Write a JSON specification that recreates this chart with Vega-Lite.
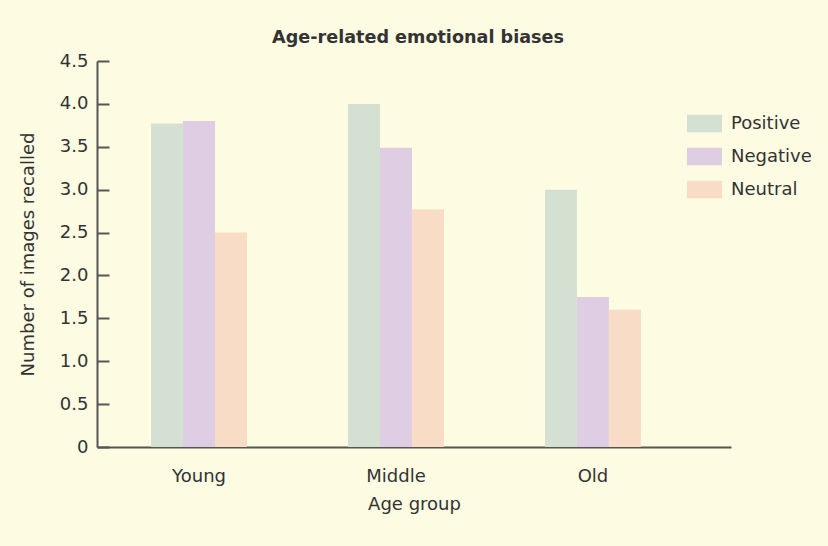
{
  "$schema": "https://vega.github.io/schema/vega-lite/v6.json",
  "width": 634,
  "height": 386,
  "autosize": "none",
  "padding": {"left": 97, "top": 61, "right": 97, "bottom": 99},
  "background": "#fdfbe2",
  "title": {"text": "Age-related emotional biases", "fontSize": 17.6, "font": "DejaVu Sans", "fontWeight": "bold", "color": "#333333", "anchor": "middle", "offset": 5, "dx": 4},
  "config": {"view": {"stroke": null}, "font": "DejaVu Sans"},
  "data": {"values": [
    {"group": "Young", "emotion": "Positive", "value": 3.77},
    {"group": "Young", "emotion": "Negative", "value": 3.80},
    {"group": "Young", "emotion": "Neutral", "value": 2.50},
    {"group": "Middle", "emotion": "Positive", "value": 4.00},
    {"group": "Middle", "emotion": "Negative", "value": 3.49},
    {"group": "Middle", "emotion": "Neutral", "value": 2.77},
    {"group": "Old", "emotion": "Positive", "value": 3.00},
    {"group": "Old", "emotion": "Negative", "value": 1.75},
    {"group": "Old", "emotion": "Neutral", "value": 1.60}
  ]},
  "mark": {"type": "bar"},
  "encoding": {
    "x": {
      "field": "group", "type": "nominal", "sort": ["Young", "Middle", "Old"],
      "scale": {"paddingInner": 0.513, "paddingOuter": 0.366, "align": 0.375},
      "axis": {"title": "Age group", "labelAngle": 0, "ticks": false, "labelPadding": 20, "titlePadding": 10,
        "labelFontSize": 18, "titleFontSize": 18, "titleFontWeight": "normal", "labelColor": "#333333", "titleColor": "#333333",
        "domainColor": "#555555", "domainWidth": 2}
    },
    "xOffset": {"field": "emotion", "sort": ["Positive", "Negative", "Neutral"], "scale": {"paddingInner": 0, "paddingOuter": 0}},
    "y": {
      "field": "value", "type": "quantitative",
      "scale": {"domain": [0, 4.5], "nice": false},
      "axis": {"title": "Number of images recalled", "values": [0, 0.5, 1, 1.5, 2, 2.5, 3, 3.5, 4, 4.5],
        "labelExpr": "datum.value === 0 ? '0' : format(datum.value, '.1f')",
        "grid": false, "tickSize": -12, "labelPadding": 21, "tickColor": "#555555", "tickWidth": 2,
        "domainColor": "#555555", "domainWidth": 2, "labelFontSize": 18, "titleFontSize": 18, "titleFontWeight": "normal",
        "labelColor": "#333333", "titleColor": "#333333", "titlePadding": 22}
    },
    "color": {
      "field": "emotion", "type": "nominal", "sort": ["Positive", "Negative", "Neutral"],
      "scale": {"domain": ["Positive", "Negative", "Neutral"], "range": ["#d3e0d2", "#dfcee3", "#f8dcc6"]},
      "legend": {"title": null, "orient": "none", "legendX": 590, "legendY": 45,
        "symbolType": "M-1,-0.5H1V0.5H-1Z", "symbolSize": 1225, "symbolStrokeWidth": 0, "symbolOpacity": 1,
        "labelFontSize": 18, "labelColor": "#333333", "labelOffset": 9, "rowPadding": 6}
    }
  }
}
